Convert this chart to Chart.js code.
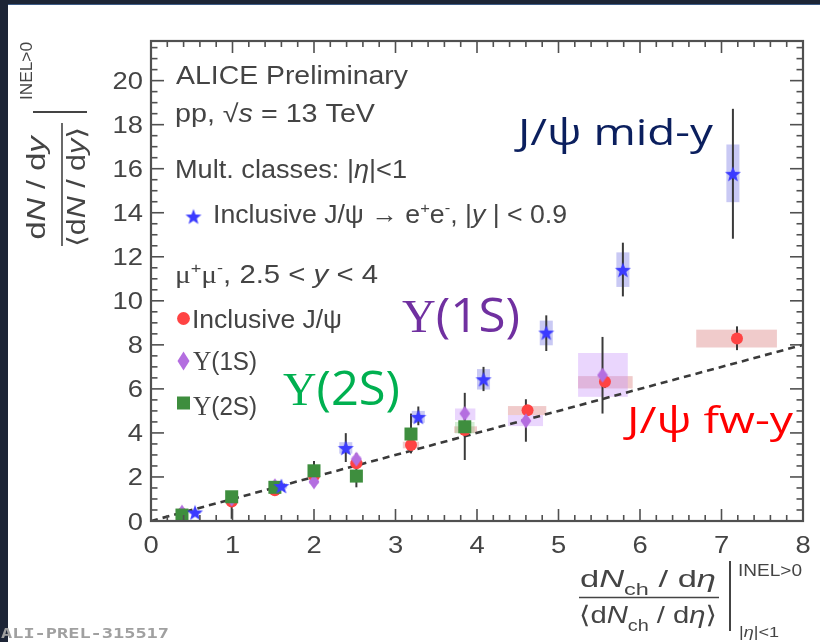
<!DOCTYPE html>
<html>
<head>
<meta charset="utf-8">
<script src="https://cdn.jsdelivr.net/npm/chart.js@4.4.0/dist/chart.umd.min.js"></script>
<style>
  html, body { margin: 0; padding: 0; background: #ffffff; }
  #wrap { position: relative; width: 820px; height: 642px; overflow: hidden; }
  canvas { display: block; }
</style>
</head>
<body>
<div id="wrap"><canvas id="chart" width="820" height="642"></canvas></div>
<script>
// ---- axis tick labels ----
const xTickLabels = ['0', '1', '2', '3', '4', '5', '6', '7', '8'];
const yTickLabels = ['0', '2', '4', '6', '8', '10', '12', '14', '16', '18', '20'];

// ---- inclusive J/psi -> e+e-, |y| < 0.9 (mid-rapidity) ----
const midX      = [0.54, 1.60, 2.39, 3.28, 4.08, 4.85, 5.79, 7.14];
const midY      = [0.39, 1.59, 3.32, 4.73, 6.44, 8.56, 11.41, 15.77];
const midStatLo = [0.31, 1.49, 2.68, 4.35, 5.90, 7.72, 10.20, 12.82];
const midStatHi = [0.47, 1.69, 3.99, 5.20, 7.00, 9.34, 12.64, 18.72];
const midSysX0  = [0.47, 1.53, 2.31, 3.20, 4.00, 4.77, 5.71, 7.06];
const midSysX1  = [0.61, 1.67, 2.47, 3.36, 4.16, 4.93, 5.87, 7.22];
const midSysY0  = [0.33, 1.47, 3.06, 4.46, 5.97, 7.98, 10.63, 14.48];
const midSysY1  = [0.45, 1.71, 3.58, 5.00, 6.90, 9.10, 12.20, 17.10];

// ---- inclusive J/psi -> mu+mu-, 2.5 < y < 4 (forward) ----
const fwX      = [0.38, 0.99, 1.52, 2.00, 2.52, 3.19, 3.85, 4.62, 5.57, 7.19];
const fwY      = [0.33, 0.88, 1.40, 2.05, 2.62, 3.45, 4.13, 5.03, 6.32, 8.29];
const fwStatLo = [0.28, 0.80, 1.32, 1.95, 2.50, 3.25, 3.98, 4.85, 6.05, 7.76];
const fwStatHi = [0.38, 0.96, 1.48, 2.15, 2.74, 3.65, 4.28, 5.21, 6.59, 8.84];
const fwSysX0  = [0.33, 0.94, 1.46, 1.93, 2.44, 3.09, 3.72, 4.38, 5.24, 6.69];
const fwSysX1  = [0.43, 1.04, 1.58, 2.07, 2.60, 3.29, 4.00, 4.85, 5.91, 7.68];
const fwSysY0  = [0.29, 0.82, 1.33, 1.95, 2.52, 3.30, 4.00, 4.81, 6.02, 7.88];
const fwSysY1  = [0.37, 0.94, 1.47, 2.15, 2.72, 3.60, 4.30, 5.22, 6.58, 8.69];

// ---- Upsilon(1S) ----
const u1X      = [0.38, 0.99, 1.52, 2.00, 2.52, 3.85, 4.60, 5.54];
const u1Y      = [0.40, 1.00, 1.60, 1.78, 2.81, 4.88, 4.55, 6.62];
const u1StatLo = [0.30, 0.85, 1.45, 1.55, 2.55, 4.60, 3.60, 4.88];
const u1StatHi = [0.50, 1.15, 1.75, 2.01, 3.07, 5.16, 5.53, 8.36];
const u1SysX0  = [0.33, 0.94, 1.46, 1.94, 2.46, 3.73, 4.38, 5.24];
const u1SysX1  = [0.43, 1.04, 1.58, 2.06, 2.58, 3.98, 4.81, 5.85];
const u1SysY0  = [0.34, 0.93, 1.52, 1.68, 2.68, 4.58, 4.31, 5.64];
const u1SysY1  = [0.46, 1.07, 1.68, 1.88, 2.94, 5.11, 4.81, 7.63];

// ---- Upsilon(2S) ----
const u2X      = [0.38, 0.99, 1.52, 2.00, 2.52, 3.19, 3.85];
const u2Y      = [0.27, 1.10, 1.53, 2.28, 2.04, 3.95, 4.28];
const u2StatLo = [0.15, 0.10, 1.40, 1.83, 1.53, 3.07, 2.77];
const u2StatHi = [0.39, 1.30, 1.66, 2.73, 2.77, 4.88, 5.82];
const u2SysX0  = [0.32, 0.93, 1.46, 1.94, 2.46, 3.13, 3.73];
const u2SysX1  = [0.44, 1.05, 1.58, 2.06, 2.58, 3.25, 3.97];
const u2SysY0  = [0.20, 1.00, 1.45, 2.15, 1.92, 3.80, 3.98];
const u2SysY1  = [0.34, 1.20, 1.61, 2.41, 2.16, 4.10, 4.50];

// ---- linear reference (y = x) ----
const refX = [0, 8];
const refY = [0, 8];

// ---------------------------------------------------------------
const ROOT_FONT = '"Liberation Sans", Arial, "DejaVu Sans", sans-serif';
const SERIF_FONT = '"Liberation Serif", "DejaVu Serif", serif';
const SLIDE_FONT = '"Open Sans", "Noto Sans", sans-serif';
const MONO_FONT = '"DejaVu Sans Mono", "Liberation Mono", monospace';
const TEXT_GREY = '#444444';

const COL_STAR = '#3b3bff';
const COL_RED = '#ff4343';
const COL_PURPLE = '#b46ee0';
const COL_GREEN = '#3e8e3e';

function pts(xs, ys) { return xs.map((x, i) => ({ x: x, y: ys[i] })); }

function starPath(g, cx, cy, R, r) {
  g.beginPath();
  for (let i = 0; i < 10; i++) {
    const a = -Math.PI / 2 + i * Math.PI / 5;
    const rad = (i % 2) ? r : R;
    const px = cx + rad * Math.cos(a), py = cy + rad * Math.sin(a);
    if (i === 0) g.moveTo(px, py); else g.lineTo(px, py);
  }
  g.closePath();
}
function diamondPath(g, cx, cy, hw, hh) {
  g.beginPath();
  g.moveTo(cx, cy - hh); g.lineTo(cx + hw, cy); g.lineTo(cx, cy + hh); g.lineTo(cx - hw, cy);
  g.closePath();
}
function makeMarker(w, h, draw) {
  const c = document.createElement('canvas');
  c.width = w; c.height = h;
  draw(c.getContext('2d'), w, h);
  return c;
}
const starImg = makeMarker(18, 18, (g, w, h) => {
  starPath(g, w / 2, h / 2 + 0.8, 8.4, 3.5); g.fillStyle = COL_STAR; g.fill();
});
const diamondImg = makeMarker(12, 16, (g, w, h) => {
  diamondPath(g, w / 2, h / 2, 5.4, 7.6); g.fillStyle = COL_PURPLE; g.fill();
});

// rich text: list of segments, each a string or {t, italic, bold, scale, dy, family}
function richParts(ctx, segs, size, family, bold) {
  let total = 0;
  const parts = segs.map(s => {
    const o = (typeof s === 'string') ? { t: s } : s;
    const sz = size * (o.scale || 1);
    const f = (o.italic ? 'italic ' : '') + (bold ? 'bold ' : '') + sz + 'px ' + (o.family || family || ROOT_FONT);
    ctx.font = f;
    const w = ctx.measureText(o.t).width;
    total += w;
    return { t: o.t, f: f, w: w, dy: (o.dy || 0) * size };
  });
  return { parts, total };
}
function drawRich(ctx, x, y, segs, size, color, opts) {
  opts = opts || {};
  const { parts, total } = richParts(ctx, segs, size, opts.family, opts.bold);
  const sx = opts.width ? opts.width / total : (opts.sx || 1);
  ctx.save();
  ctx.translate(x, y);
  ctx.scale(sx, 1);
  let cx = opts.align === 'center' ? -total / 2 : (opts.align === 'right' ? -total : 0);
  ctx.fillStyle = color;
  ctx.textAlign = 'left';
  ctx.textBaseline = opts.baseline || 'alphabetic';
  for (const p of parts) { ctx.font = p.f; ctx.fillText(p.t, cx, p.dy); cx += p.w; }
  ctx.restore();
}
function hline(ctx, x0, x1, y) { ctx.beginPath(); ctx.moveTo(x0, y); ctx.lineTo(x1, y); ctx.stroke(); }
function vline(ctx, x, y0, y1) { ctx.beginPath(); ctx.moveTo(x, y0); ctx.lineTo(x, y1); ctx.stroke(); }

// slide background with dark border strips
const backdrop = {
  id: 'backdrop',
  beforeDraw(chart) {
    const ctx = chart.ctx;
    ctx.save();
    ctx.fillStyle = '#ffffff';
    ctx.fillRect(0, 0, chart.width, chart.height);
    ctx.fillStyle = '#1d2536';
    ctx.fillRect(0, 0, chart.width, 5);
    ctx.fillRect(0, 0, 8, chart.height);
    ctx.fillStyle = '#3c5b86';
    ctx.fillRect(8, 4, chart.width - 8, 1);
    ctx.restore();
  }
};

// systematic boxes and statistical error bars
const uncertainties = {
  id: 'uncertainties',
  beforeDatasetsDraw(chart) {
    const ctx = chart.ctx, xs = chart.scales.x, ys = chart.scales.y;
    const area = chart.chartArea;
    ctx.save();
    ctx.beginPath();
    ctx.rect(area.left, area.top, area.right - area.left, area.bottom - area.top);
    ctx.clip();
    const boxes = [
      [fwSysX0, fwSysX1, fwSysY0, fwSysY1, 'rgba(214,110,110,0.36)'],
      [u1SysX0, u1SysX1, u1SysY0, u1SysY1, 'rgba(196,140,250,0.36)'],
      [u2SysX0, u2SysX1, u2SysY0, u2SysY1, 'rgba(120,200,120,0.32)'],
      [midSysX0, midSysX1, midSysY0, midSysY1, 'rgba(105,105,225,0.36)']
    ];
    for (const [x0, x1, y0, y1, col] of boxes) {
      ctx.fillStyle = col;
      for (let i = 0; i < x0.length; i++) {
        const px0 = xs.getPixelForValue(x0[i]), px1 = xs.getPixelForValue(x1[i]);
        const py0 = ys.getPixelForValue(y1[i]), py1 = ys.getPixelForValue(y0[i]);
        ctx.fillRect(px0, py0, px1 - px0, py1 - py0);
      }
    }
    const bars = [
      [fwX, fwStatLo, fwStatHi], [u1X, u1StatLo, u1StatHi],
      [u2X, u2StatLo, u2StatHi], [midX, midStatLo, midStatHi]
    ];
    ctx.strokeStyle = '#3a3a3a';
    ctx.lineWidth = 2;
    for (const [x, lo, hi] of bars) {
      for (let i = 0; i < x.length; i++) {
        const px = xs.getPixelForValue(x[i]);
        vline(ctx, px, ys.getPixelForValue(lo[i]), ys.getPixelForValue(hi[i]));
      }
    }
    ctx.restore();
  }
};

// frame with inward ticks on all four sides, plus tick labels
const frame = {
  id: 'frame',
  afterDatasetsDraw(chart) {
    const ctx = chart.ctx, xs = chart.scales.x, ys = chart.scales.y;
    const { left, right, top, bottom } = chart.chartArea;
    ctx.save();
    ctx.strokeStyle = '#505050';
    ctx.lineWidth = 1.6;
    const xMajor = xTickLabels.map(Number);
    const yMajor = yTickLabels.map(Number);
    const xMinor = [], yMinor = [];
    for (let i = 0; i < xMajor.length - 1; i++)
      for (let k = 1; k < 5; k++) xMinor.push(xMajor[i] + (xMajor[i + 1] - xMajor[i]) * k / 5);
    for (let i = 0; i < yMajor.length - 1; i++)
      for (let k = 1; k < 4; k++) yMinor.push(yMajor[i] + (yMajor[i + 1] - yMajor[i]) * k / 4);
    const step = (yMajor[1] - yMajor[0]) / 4;
    for (let v = yMajor[yMajor.length - 1] + step; v < ys.max; v += step) yMinor.push(v);
    for (const v of xMajor) {
      const p = xs.getPixelForValue(v);
      vline(ctx, p, bottom, bottom - 12); vline(ctx, p, top, top + 12);
    }
    for (const v of xMinor) {
      const p = xs.getPixelForValue(v);
      vline(ctx, p, bottom, bottom - 6); vline(ctx, p, top, top + 6);
    }
    for (const v of yMajor) {
      const p = ys.getPixelForValue(v);
      hline(ctx, left, left + 13, p); hline(ctx, right, right - 13, p);
    }
    for (const v of yMinor) {
      const p = ys.getPixelForValue(v);
      hline(ctx, left, left + 6.5, p); hline(ctx, right, right - 6.5, p);
    }
    ctx.lineWidth = 2.2;
    ctx.strokeRect(left, top, right - left, bottom - top);

    // tick labels
    xTickLabels.forEach(lab => {
      drawRich(ctx, xs.getPixelForValue(Number(lab)), bottom + 32, [lab], 24, TEXT_GREY, { sx: 1.14, align: 'center' });
    });
    yTickLabels.forEach(lab => {
      drawRich(ctx, left - 8, ys.getPixelForValue(Number(lab)) + 8.5, [lab], 24, TEXT_GREY, { sx: 1.14, align: 'right' });
    });
    ctx.restore();
  }
};

// in-plot legend, axis titles and annotations
const texts = {
  id: 'texts',
  afterDraw(chart) {
    const ctx = chart.ctx;
    ctx.save();
    const S = 25;
    const sup = t => ({ t: t, scale: 0.62, dy: -0.42 });
    drawRich(ctx, 176, 83.5, ['ALICE Preliminary'], S, TEXT_GREY, { width: 232 });
    drawRich(ctx, 175, 122, ['pp, ', '\u221A', { t: 's', italic: true }, ' = 13 TeV'], S, TEXT_GREY, { width: 200 });
    drawRich(ctx, 175, 178, ['Mult. classes: |', { t: '\u03B7', italic: true }, '|<1'], S, TEXT_GREY, { width: 232 });

    // star entry
    ctx.drawImage(starImg, 193.5 - starImg.width / 2, 216.5 - starImg.height / 2);
    drawRich(ctx, 213, 223, ['Inclusive J/\u03C8 ', '\u2192', ' e', sup('+'), 'e', sup('-'), ', |',
      { t: 'y', italic: true }, ' | < 0.9'], S, TEXT_GREY, { width: 354 });

    drawRich(ctx, 175, 283, [{ t: '\u03BC', family: SERIF_FONT }, sup('+'), { t: '\u03BC', family: SERIF_FONT }, sup('-'),
      ', 2.5 < ', { t: 'y', italic: true }, ' < 4'], S, TEXT_GREY, { width: 203 });

    // dimuon entries
    ctx.fillStyle = COL_RED;
    ctx.beginPath(); ctx.arc(183.5, 318.5, 6.4, 0, Math.PI * 2); ctx.fill();
    drawRich(ctx, 192, 327.5, ['Inclusive J/\u03C8'], S, TEXT_GREY, { width: 150 });

    diamondPath(ctx, 183.5, 361, 6, 9.5); ctx.fillStyle = COL_PURPLE; ctx.fill();
    drawRich(ctx, 193, 370, [{ t: '\u03A5', family: SERIF_FONT, scale: 1.05 }, '(1S)'], S, TEXT_GREY, { width: 64 });

    ctx.fillStyle = COL_GREEN; ctx.fillRect(177, 396.5, 13, 13);
    drawRich(ctx, 193, 415, [{ t: '\u03A5', family: SERIF_FONT, scale: 1.05 }, '(2S)'], S, TEXT_GREY, { width: 64 });

    // x-axis title
    const sub = t => ({ t: t, scale: 0.68, dy: 0.32 });
    drawRich(ctx, 648, 587, ['d', { t: 'N', italic: true }, sub('ch'), ' / d', { t: '\u03B7', italic: true }], 24, TEXT_GREY,
      { width: 136, align: 'center' });
    ctx.strokeStyle = TEXT_GREY; ctx.lineWidth = 1.6;
    hline(ctx, 579, 719, 597.5);
    drawRich(ctx, 648, 623, ['\u27E8d', { t: 'N', italic: true }, sub('ch'), ' / d', { t: '\u03B7', italic: true }, '\u27E9'], 24, TEXT_GREY,
      { width: 138, align: 'center' });
    ctx.lineWidth = 2;
    vline(ctx, 730, 561, 631);
    drawRich(ctx, 738, 576, ['INEL>0'], 16, TEXT_GREY, { width: 64 });
    drawRich(ctx, 739, 637, ['|', { t: '\u03B7', italic: true }, '|<1'], 15, TEXT_GREY, { width: 40 });

    // y-axis title (rotated)
    ctx.save();
    ctx.translate(45, 188);
    ctx.rotate(-Math.PI / 2);
    drawRich(ctx, 0, 0, ['d', { t: 'N', italic: true }, ' / d', { t: 'y', italic: true }], 25, TEXT_GREY, { width: 103, align: 'center' });
    ctx.restore();
    ctx.strokeStyle = TEXT_GREY; ctx.lineWidth = 1.6;
    vline(ctx, 62, 123, 246);
    ctx.save();
    ctx.translate(85, 187);
    ctx.rotate(-Math.PI / 2);
    drawRich(ctx, 0, 0, ['\u27E8d', { t: 'N', italic: true }, ' / d', { t: 'y', italic: true }, '\u27E9'], 25, TEXT_GREY, { width: 120, align: 'center' });
    ctx.restore();
    ctx.lineWidth = 2;
    hline(ctx, 33, 87, 112);
    ctx.save();
    ctx.translate(32, 100);
    ctx.rotate(-Math.PI / 2);
    drawRich(ctx, 0, 0, ['INEL>0'], 16, TEXT_GREY, { width: 58 });
    ctx.restore();

    // preliminary figure id
    drawRich(ctx, 1, 638, ['ALI-PREL-315517'], 14, '#a0a0a0', { width: 168, family: MONO_FONT, bold: true });

    // annotations
    drawRich(ctx, 518, 145, ['J/\u03C8 mid-y'], 36, '#0b1f5e', { width: 195, family: SLIDE_FONT });
    drawRich(ctx, 627, 433, ['J/\u03C8 fw-y'], 36, '#ff0000', { width: 166, family: SLIDE_FONT });
    drawRich(ctx, 402, 331.5, [{ t: '\u03A5', family: SERIF_FONT, scale: 0.95 }, { t: '(1S)', family: SLIDE_FONT }], 48, '#7030a0', { width: 118 });
    drawRich(ctx, 283, 405, [{ t: '\u03A5', family: SERIF_FONT, scale: 0.95 }, { t: '(2S)', family: SLIDE_FONT }], 48, '#00b050', { width: 117 });
    ctx.restore();
  }
};

new Chart(document.getElementById('chart').getContext('2d'), {
  type: 'scatter',
  data: {
    datasets: [
      { label: 'Inclusive J/\u03C8 \u2192 e+e-, |y| < 0.9', data: pts(midX, midY), pointStyle: starImg, pointRadius: 8, order: 0 },
      { label: '\u03A5(2S)', data: pts(u2X, u2Y), pointStyle: 'rect', pointRadius: 9.2, pointBorderWidth: 0,
        backgroundColor: COL_GREEN, borderColor: COL_GREEN, order: 1 },
      { label: '\u03A5(1S)', data: pts(u1X, u1Y), pointStyle: diamondImg, pointRadius: 7, order: 2 },
      { label: 'Inclusive J/\u03C8', data: pts(fwX, fwY), pointStyle: 'circle', pointRadius: 6, pointBorderWidth: 0,
        backgroundColor: COL_RED, borderColor: COL_RED, order: 3 },
      { type: 'line', label: 'linear', data: pts(refX, refY), borderColor: '#3a3a3a', borderWidth: 2.6,
        borderDash: [7, 5], pointRadius: 0, fill: false, order: 4 }
    ]
  },
  options: {
    responsive: false,
    animation: false,
    devicePixelRatio: 1,
    layout: { padding: { left: 151, right: 17, top: 41, bottom: 121 } },
    scales: {
      x: { type: 'linear', min: 0, max: 8, display: false },
      y: { type: 'linear', min: 0, max: 21.8, display: false }
    },
    plugins: { legend: { display: false }, tooltip: { enabled: false } },
    events: []
  },
  plugins: [backdrop, uncertainties, frame, texts]
});
</script>
</body>
</html>
